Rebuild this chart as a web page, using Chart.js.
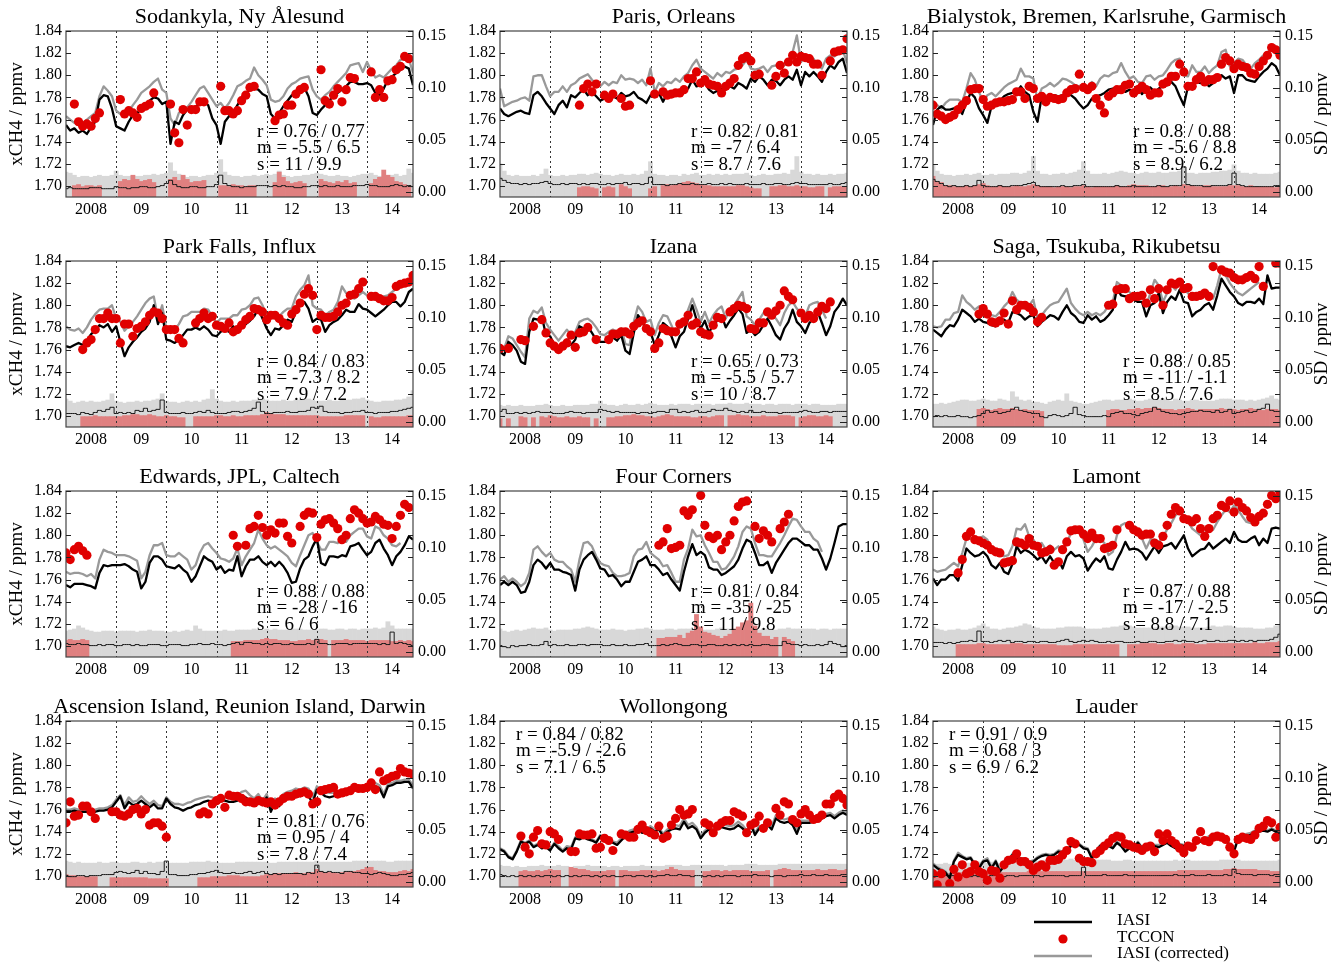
<!DOCTYPE html>
<html>
<head>
<meta charset="utf-8">
<script src="https://cdn.jsdelivr.net/npm/chart.js@4.4.1/dist/chart.umd.min.js"></script>
<style>
  html, body { margin: 0; padding: 0; background: #fff; }
  body { width: 1341px; height: 964px; position: relative; overflow: hidden; }
  canvas { position: absolute; }
</style>
</head>
<body>
<script>
// Monthly XCH4 comparison, Jan 2008 .. Dec 2014 (index 0..83).
// Concentrations in ppbv (axis labels shown in ppmv); SD in ppbv.
const _ = null;
const YEAR_LABELS = ['2008', '09', '10', '11', '12', '13', '14'];
const XCH4_TICKS = [1700, 1720, 1740, 1760, 1780, 1800, 1820, 1840];
const SD_TICKS = [0, 50, 100, 150];
const YEAR_STARTS = [12, 24, 36, 48, 60, 72];

const TITLES = [
  'Sodankyla, Ny \u00c5lesund', 'Paris, Orleans', 'Bialystok, Bremen, Karlsruhe, Garmisch',
  'Park Falls, Influx', 'Izana', 'Saga, Tsukuba, Rikubetsu',
  'Edwards, JPL, Caltech', 'Four Corners', 'Lamont',
  'Ascension Island, Reunion Island, Darwin', 'Wollongong', 'Lauder'
];
const STATS = [
  ['r = 0.76 / 0.77', 'm = -5.5 / 6.5', 's = 11 / 9.9'],
  ['r = 0.82 / 0.81', 'm = -7 / 6.4', 's = 8.7 / 7.6'],
  ['r = 0.8 / 0.88', 'm = -5.6 / 8.8', 's = 8.9 / 6.2'],
  ['r = 0.84 / 0.83', 'm = -7.3 / 8.2', 's = 7.9 / 7.2'],
  ['r = 0.65 / 0.73', 'm = -5.5 / 5.7', 's = 10 / 8.7'],
  ['r = 0.88 / 0.85', 'm = -11 / -1.1', 's = 8.5 / 7.6'],
  ['r = 0.88 / 0.88', 'm = -28 / -16', 's = 6 / 6'],
  ['r = 0.81 / 0.84', 'm = -35 / -25', 's = 11 / 9.8'],
  ['r = 0.87 / 0.88', 'm = -17 / -2.5', 's = 8.8 / 7.1'],
  ['r = 0.81 / 0.76', 'm = 0.95 / 4', 's = 7.8 / 7.4'],
  ['r = 0.84 / 0.82', 'm = -5.9 / -2.6', 's = 7.1 / 6.5'],
  ['r = 0.91 / 0.9', 'm = 0.68 / 3', 's = 6.9 / 6.2']
];
const LEGEND_LABELS = ['IASI', 'TCCON', 'IASI (corrected)'];

// ---- Sodankyla, Ny Alesund
const iasiSod = [
  1755,1750,1752,1748,1750,1747,1753,1758,1778,1782,1781,1770,
  1754,1752,1750,1758,1764,1766,1769,1773,1777,1780,1779,1774,
  1776,1738,1758,1756,1764,1769,1770,1772,1774,1776,1773,1761,
  1755,1738,1758,1763,1766,1773,1779,1784,1787,1788,1787,1783,
  1781,1765,1761,1766,1772,1777,1782,1784,1787,1789,1781,1766,
  1764,1769,1773,1777,1782,1784,1787,1790,1794,1794,1792,1792,
  1793,1791,1784,1782,1788,1796,1799,1802,1805,1808,1806,1791];
const corrSod = [
  1763,1760,1757,1755,1757,1760,1763,1766,1781,1790,1786,1781,
  1768,1765,1764,1767,1773,1778,1784,1787,1790,1794,1797,1787,
  1784,1761,1755,1766,1769,1771,1776,1782,1788,1790,1784,1778,
  1772,1775,1770,1775,1782,1790,1792,1795,1797,1807,1800,1796,
  1791,1778,1776,1777,1781,1788,1792,1794,1797,1798,1799,1787,
  1781,1778,1782,1785,1790,1794,1798,1802,1809,1810,1811,1803,
  1812,1804,1798,1800,1798,1802,1806,1809,1814,1815,1815,1802];
const tcconSod = [
  _,_,1774,1758,1754,1756,1754,1761,1766,_,_,_,
  _,1778,1765,1768,1766,1762,1770,1772,1774,1784,_,_,
  _,1774,1748,1739,1769,1755,1769,1769,1776,1776,_,_,
  _,1790,1768,1768,1765,1768,1777,1782,1789,1790,_,_,
  _,_,1759,1764,1765,1773,1773,1783,1787,1789,_,_,
  _,1805,1777,1774,1782,1788,1776,1787,1798,1797,_,_,
  _,1803,1780,1787,1780,1795,1796,1805,1808,1817,1815,_];
const sdIasiSod = [
  19,18,16,14,15,15,14,15,16,15,15,16,
  20,16,15,15,14,15,15,16,16,17,16,17,
  18,28,20,17,15,14,15,15,14,15,16,16,
  18,31,19,16,15,15,14,15,15,16,15,16,
  17,16,17,20,16,15,14,15,15,16,16,17,
  18,17,16,15,15,16,15,15,14,15,16,17,
  17,18,16,15,15,16,16,17,15,16,22,18];
const sdTcconSod = [
  _,_,6,7,5,6,6,5,6,_,_,_,
  _,10,12,11,16,12,10,11,12,9,_,_,
  _,12,14,11,16,12,9,10,10,11,_,_,
  _,6,6,5,7,6,6,5,6,6,_,_,
  _,_,9,19,14,10,8,9,10,8,_,_,
  _,12,10,9,8,10,9,11,8,9,_,_,
  _,8,12,14,21,16,14,10,9,7,6,_];
const sdDiffSod = [
  3,4,3,3,3,3,4,4,4,3,3,3,
  5,4,4,3,4,4,5,5,4,4,5,6,
  8,11,7,5,4,4,5,5,4,4,5,5,
  7,16,8,6,5,5,4,5,5,5,6,6,
  6,5,6,5,6,5,5,4,4,5,5,6,
  6,5,6,5,5,6,5,5,5,6,6,6,
  7,6,6,5,5,5,6,7,6,5,6,5];

// ---- Paris, Orleans
const iasiPar = [
  1770,1765,1763,1765,1767,1768,1766,1765,1782,1785,1781,1775,
  1770,1765,1773,1777,1771,1782,1780,1784,1787,1782,1785,1781,
  1777,1779,1778,1781,1779,1784,1781,1782,1785,1780,1778,1775,
  1782,1781,1784,1776,1784,1782,1785,1784,1786,1788,1796,1790,
  1791,1793,1787,1784,1786,1788,1787,1790,1788,1793,1791,1788,
  1797,1794,1799,1796,1791,1796,1795,1791,1796,1799,1796,1805,
  1791,1803,1799,1803,1799,1794,1803,1809,1806,1812,1815,1802];
const corrPar = [
  1788,1772,1774,1776,1777,1779,1780,1777,1799,1800,1800,1790,
  1781,1785,1785,1790,1785,1791,1793,1797,1799,1801,1796,1792,
  1790,1794,1791,1794,1793,1800,1796,1797,1796,1793,1796,1791,
  1806,1785,1793,1790,1794,1793,1797,1794,1799,1802,1809,1814,
  1806,1803,1800,1797,1802,1799,1803,1802,1805,1806,1809,1814,
  1806,1805,1806,1808,1803,1808,1809,1806,1809,1814,1821,1836,
  1812,1817,1812,1815,1809,1806,1815,1818,1817,1820,1823,1811];
const tcconPar = [
  _,_,_,_,_,_,_,_,_,_,_,_,
  _,_,_,_,_,_,_,1773,1788,1792,1785,1792,
  _,1782,1779,1783,_,1779,1772,1773,_,_,_,_,
  1795,1783,_,1785,1782,1783,1784,1784,1787,1797,1797,1803,
  1793,1796,1792,1791,1790,1784,1790,1793,1797,1809,1815,1817,
  1813,1800,1801,_,_,1791,1799,1809,1802,1812,1818,1812,
  1817,1816,1815,1810,1810,1800,_,1813,1821,1822,1823,1833];
const sdIasiPar = [
  27,20,16,15,16,15,15,15,16,15,17,22,
  16,15,15,16,15,16,16,17,17,16,17,18,
  17,16,16,15,16,17,16,16,17,16,17,20,
  29,17,16,16,15,16,16,15,17,16,17,18,
  16,16,17,16,17,16,17,16,17,17,17,18,
  16,15,16,17,16,16,17,17,18,17,21,34,
  19,17,17,16,17,16,16,17,16,17,17,18];
const sdTcconPar = [
  _,_,_,_,_,_,_,_,_,_,_,_,
  _,_,_,_,_,_,_,4,5,5,4,3,
  _,4,5,4,_,7,5,3,_,_,_,_,
  3,5,_,6,7,6,7,8,9,10,9,8,
  7,6,6,5,5,5,5,5,5,6,6,5,
  4,3,3,_,_,5,5,6,6,5,5,6,
  5,5,4,4,5,5,_,4,5,5,5,5];
const sdDiffPar = [
  13,11,9,8,8,7,8,7,8,8,9,10,
  8,7,7,8,7,8,8,7,8,7,8,8,
  7,7,8,7,8,8,9,7,8,8,7,8,
  14,7,7,7,6,7,7,8,7,7,8,7,
  7,7,8,7,7,8,7,8,7,7,7,8,
  7,7,7,8,7,7,8,8,7,7,8,9,
  8,8,7,7,7,7,7,8,7,7,8,9];

// ---- Bialystok, Bremen, Karlsruhe, Garmisch
const iasiBia = [
  1755,1769,1772,1769,1769,1770,1771,1765,1776,1784,1780,1770,
  1764,1757,1772,1776,1777,1781,1783,1784,1785,1790,1785,1782,
  1767,1758,1781,1778,1781,1782,1781,1782,1784,1782,1779,1774,
  1770,1773,1779,1781,1782,1784,1787,1788,1789,1788,1785,1787,
  1785,1790,1783,1788,1789,1785,1788,1790,1791,1794,1790,1781,
  1773,1790,1792,1794,1793,1794,1790,1793,1797,1800,1797,1799,
  1784,1800,1800,1796,1795,1794,1799,1803,1806,1811,1808,1800];
const corrBia = [
  1776,1773,1770,1775,1778,1778,1778,1776,1788,1802,1796,1785,
  1776,1782,1784,1781,1785,1789,1792,1794,1796,1806,1799,1799,
  1797,1778,1788,1790,1793,1790,1793,1797,1796,1794,1791,1790,
  1787,1788,1794,1790,1797,1800,1799,1802,1803,1811,1803,1797,
  1799,1794,1793,1799,1800,1796,1799,1800,1805,1811,1814,1815,
  1800,1799,1809,1803,1803,1808,1802,1806,1809,1821,1823,1808,
  1811,1815,1814,1809,1806,1811,1814,1818,1821,1823,1826,1820];
const tcconBia = [
  1773,1765,1763,1760,1762,1764,1769,1773,1777,1787,1788,1788,
  1778,1772,1773,1775,1776,1776,1777,1778,1785,1785,1779,1790,
  1788,1779,1781,1776,1780,1779,1778,1779,1784,1787,1788,1801,
  1789,1787,1790,1779,1773,1766,1781,1784,1787,1787,1791,1792,
  1784,1787,1790,1787,1782,1784,1784,1792,1794,1799,1799,1810,
  1803,1790,1790,1796,1799,1794,1796,1796,1798,1810,1816,1813,
  1806,1810,1808,1807,1802,1801,1808,1813,1818,1825,1823,1818];
const sdIasiBia = [
  26,20,17,16,16,15,16,16,17,16,17,18,
  16,16,17,16,17,17,17,18,18,17,18,20,
  34,20,17,17,16,17,17,18,17,18,19,21,
  29,20,17,17,17,18,17,18,19,20,19,18,
  18,17,18,19,18,18,19,18,18,19,19,20,
  24,18,18,17,18,18,18,19,19,20,20,21,
  26,20,18,18,17,18,17,17,17,17,18,19];
const sdTcconBia = [
  15,10,9,6,6,5,5,5,6,5,6,7,
  8,6,5,5,6,5,5,5,6,5,5,6,
  7,6,5,5,5,4,5,5,5,4,5,5,
  6,5,4,5,5,5,5,5,6,5,5,6,
  7,6,6,6,5,5,6,6,5,5,6,5,
  7,6,6,5,5,6,6,5,5,5,5,6,
  6,6,5,5,6,5,5,5,5,5,4,5];
const sdDiffBia = [
  12,10,8,6,5,6,5,5,6,5,6,11,
  6,5,5,5,6,5,5,6,6,6,7,8,
  9,6,5,5,5,5,5,6,5,5,6,6,
  7,5,5,5,5,5,5,5,6,5,5,5,
  6,5,5,5,5,5,6,5,5,6,6,6,
  24,7,6,6,6,5,5,6,6,6,6,7,
  18,7,6,5,5,5,5,5,5,5,6,6];

// ---- Park Falls, Influx
const iasiPkf = [
  1763,1762,1764,1766,1764,1768,1774,1777,1782,1780,1783,1776,
  1781,1767,1754,1762,1767,1771,1776,1779,1785,1800,1783,1793,
  1769,1768,1766,1769,1773,1778,1778,1780,1778,1781,1778,1773,
  1772,1776,1778,1776,1781,1778,1784,1783,1786,1790,1797,1788,
  1779,1773,1779,1778,1782,1787,1785,1794,1802,1803,1797,1785,
  1788,1787,1776,1782,1785,1787,1791,1796,1794,1794,1801,1797,
  1796,1793,1790,1793,1796,1800,1803,1803,1799,1803,1812,1815];
const corrPkf = [
  1781,1778,1777,1779,1775,1780,1787,1792,1796,1797,1797,1800,
  1788,1785,1777,1781,1785,1790,1796,1802,1806,1808,1788,1800,
  1779,1778,1778,1783,1790,1791,1794,1794,1794,1797,1796,1790,
  1784,1788,1788,1788,1791,1791,1796,1797,1800,1806,1807,1800,
  1790,1788,1791,1790,1794,1797,1797,1808,1814,1818,1827,1800,
  1797,1796,1791,1794,1796,1803,1817,1811,1808,1806,1809,1812,
  1809,1808,1806,1806,1808,1809,1812,1815,1817,1818,1823,1825];
const tcconPkf = [
  _,_,_,_,1760,1766,1769,1778,1788,1788,1793,1788,
  1788,1766,1783,1783,1772,1779,1781,1785,1791,1794,1793,1788,
  1778,1778,1778,1770,1766,_,_,1784,1788,1793,1788,1790,
  1782,1781,1779,1784,1776,1778,1782,1787,1790,1797,1796,1794,
  1787,1791,1791,1788,1784,1782,1792,1796,1802,1810,1815,1809,
  1778,1791,1789,1789,1790,1794,1800,1802,1809,1810,1815,1821,
  _,1808,1808,1806,1804,1804,1807,1817,1819,1820,1821,1827];
const sdIasiPkf = [
  22,20,18,19,20,19,20,19,19,20,21,27,
  20,19,18,19,19,20,19,20,20,21,22,27,
  20,19,19,18,19,20,19,20,19,21,22,31,
  22,20,19,19,20,19,20,20,20,21,21,22,
  21,20,20,20,21,20,20,21,21,22,22,21,
  20,20,20,21,20,20,21,21,21,22,22,23,
  21,20,19,19,20,20,20,21,21,22,24,30];
const sdTcconPkf = [
  _,_,_,_,5,5,5,6,5,5,5,5,
  5,5,6,6,7,7,6,6,7,6,5,5,
  6,5,5,4,4,_,_,5,5,5,5,5,
  6,6,5,5,6,5,5,6,6,6,6,7,
  9,8,7,7,7,6,6,6,6,6,6,6,
  6,5,5,5,5,5,5,6,6,6,6,6,
  _,5,4,4,5,5,5,5,5,5,6,6];
const sdDiffPkf = [
  8,8,8,7,9,8,7,9,11,10,12,14,
  8,9,8,9,8,11,10,13,10,11,12,21,
  9,8,8,8,9,8,8,9,10,9,11,9,
  8,8,8,9,10,10,9,10,11,13,19,10,
  8,8,9,9,9,10,9,9,10,10,11,14,
  13,15,10,9,9,9,8,9,9,10,10,11,
  9,9,8,9,9,9,10,10,11,12,13,14];

// ---- Izana
const iasiIza = [
  1758,1755,1767,1764,1759,1749,1747,1776,1788,1787,1790,1773,
  1772,1764,1761,1761,1769,1764,1769,1781,1779,1781,1775,1769,
  1767,1767,1767,1771,1768,1773,1759,1756,1775,1791,1786,1777,
  1776,1764,1773,1784,1781,1772,1762,1772,1776,1788,1800,1787,
  1779,1786,1775,1783,1786,1791,1780,1786,1791,1797,1792,1775,
  1778,1773,1776,1782,1788,1781,1773,1769,1779,1785,1796,1785,
  1781,1775,1784,1788,1794,1784,1773,1781,1794,1799,1806,1800];
const corrIza = [
  1764,1761,1772,1770,1764,1758,1753,1788,1795,1793,1798,1784,
  1778,1773,1768,1773,1778,1773,1776,1785,1787,1788,1785,1780,
  1774,1773,1776,1778,1776,1779,1765,1764,1785,1799,1794,1785,
  1787,1773,1784,1791,1790,1782,1773,1780,1786,1796,1806,1796,
  1785,1794,1784,1791,1796,1799,1788,1797,1800,1806,1812,1790,
  1787,1782,1787,1793,1796,1790,1788,1782,1793,1800,1803,1797,
  1793,1790,1800,1802,1803,1796,1788,_,_,_,_,_];
const tcconIza = [
  1761,_,1761,_,_,1769,1768,_,1781,_,1787,1775,
  1766,1763,1760,1763,1766,1773,1762,1775,1776,1780,_,1769,
  _,_,1769,1774,1774,1776,1776,1774,1781,1784,1786,1779,
  1776,1761,1766,1779,1777,1776,1776,1783,1785,1791,1782,1784,
  1776,1774,1773,1782,1789,1788,_,1794,1797,1800,1799,1797,
  1779,1778,1784,1784,1794,1791,1795,1800,1813,1808,1805,_,
  1793,1788,1791,1788,1794,1799,1797,1803,_,_,_,_];
const sdIasiIza = [
  16,15,16,15,15,16,15,15,15,16,16,17,
  16,15,15,16,15,15,16,16,16,16,17,17,
  20,17,16,16,15,16,17,16,16,17,16,17,
  18,17,16,16,16,17,16,17,17,17,16,17,
  17,17,17,16,17,17,17,18,17,17,17,18,
  17,17,17,16,17,17,16,17,17,17,16,17,
  17,17,16,17,17,16,16,16,16,17,17,17];
const sdTcconIza = [
  3,_,3,_,_,5,4,_,4,_,5,4,
  6,5,4,4,5,4,4,5,4,4,_,3,
  _,_,4,4,5,5,6,6,7,6,6,5,
  5,4,5,6,7,6,5,5,5,5,4,4,
  5,5,4,5,6,6,_,6,6,7,6,6,
  5,5,5,6,5,5,5,6,6,6,5,_,
  4,5,6,6,5,5,6,5,_,_,_,_];
const sdDiffIza = [
  10,12,8,8,9,8,9,8,9,10,9,9,
  9,8,8,8,9,10,9,9,8,9,9,9,
  12,11,10,9,10,9,9,9,9,8,9,9,
  8,9,10,10,9,12,12,9,10,9,10,11,
  9,9,10,12,11,11,13,11,10,9,10,9,
  11,9,9,10,9,9,9,8,9,9,9,9,
  10,11,10,9,9,10,10,9,10,10,10,10];

// ---- Saga, Tsukuba, Rikubetsu
const iasiSag = [
  1778,1775,1772,1778,1782,1781,1787,1796,1793,1790,1785,1788,
  1785,1784,1782,1781,1785,1787,1784,1794,1793,1791,1787,1790,
  1791,1781,1785,1788,1791,1790,1787,1794,1800,1793,1790,1785,
  1784,1791,1787,1790,1785,1787,1791,1796,1815,1809,1808,1809,
  1805,1803,1803,1790,1800,1802,1811,1793,1803,1808,1805,1814,
  1803,1802,1790,1794,1796,1800,1802,1796,1809,1824,1818,1812,
  1808,1802,1800,1803,1803,1802,1806,1801,1827,1815,1816,1816];
const corrSag = [
  1781,1780,1781,1787,1787,1793,1794,1809,1803,1800,1796,1799,
  1797,1791,1791,1790,1794,1799,1803,1812,1805,1802,1800,1800,
  1805,1788,1791,1796,1800,1802,1803,1809,1815,1802,1797,1793,
  1791,1794,1791,1793,1791,1794,1800,1803,1821,1818,1814,1812,
  1806,1808,1809,1800,1811,1823,1818,1803,1811,1818,1814,1823,
  1814,1811,1805,1806,1806,1809,1809,1806,1818,1833,1827,1820,
  1815,1811,1809,1812,1815,1818,1821,_,_,_,_,_];
const tcconSag = [
  _,_,_,_,_,_,_,_,_,_,_,1792,
  1797,1792,1785,1784,1786,1793,1783,1804,1796,1800,1800,1798,
  1794,1785,1789,_,_,_,_,_,_,_,_,_,
  _,_,_,_,_,_,1800,1801,1814,1815,1815,1806,
  1808,1808,1809,1802,1814,1806,1815,1800,1814,1820,1819,1821,
  1815,1816,1808,1808,1809,1811,1808,1835,_,1832,1830,1829,
  1825,1823,1823,1825,1827,1824,1835,1817,_,_,1838,1838];
const sdIasiSag = [
  17,17,18,17,18,19,20,21,21,20,20,21,
  22,21,20,20,22,21,20,29,24,21,20,21,
  19,19,18,17,19,20,21,20,27,20,19,18,
  17,17,18,19,20,21,21,20,21,21,21,22,
  21,20,20,21,22,21,21,22,21,20,22,21,
  20,20,21,21,20,20,20,20,21,22,22,22,
  21,21,21,20,21,20,21,22,23,25,22,21];
const sdTcconSag = [
  _,_,_,_,_,_,_,_,_,_,_,12,
  13,12,11,12,13,12,12,13,12,11,12,11,
  11,11,10,_,_,_,_,_,_,_,_,_,
  _,_,_,_,_,_,11,12,12,11,11,12,
  12,13,12,13,13,14,13,12,12,12,11,12,
  12,13,12,11,12,12,12,12,12,13,12,12,
  12,11,12,12,13,12,12,11,12,12,12,11];
const sdDiffSag = [
  5,6,5,6,5,5,6,5,5,4,5,6,
  8,11,9,10,8,9,10,12,14,11,10,9,
  8,8,5,4,6,7,6,5,6,8,14,7,
  6,5,5,5,5,6,5,8,9,10,8,8,
  7,6,8,9,10,14,12,10,9,8,8,7,
  8,9,10,10,11,10,10,9,11,9,10,12,
  8,9,10,11,9,10,12,13,17,11,10,10];

// ---- Edwards, JPL, Caltech
const iasiEdw = [
  1755,1753,1756,1756,1756,1755,1754,1752,1766,1773,1772,1773,
  1773,1773,1774,1772,1769,1767,1752,1758,1775,1781,1781,1778,
  1772,1771,1770,1773,1769,1766,1758,1763,1772,1781,1778,1776,
  1769,1772,1766,1769,1768,1781,1763,1772,1778,1778,1781,1776,
  1773,1776,1772,1776,1772,1766,1757,1758,1770,1778,1781,1790,
  1797,1775,1773,1781,1781,1780,1782,1781,1790,1791,1793,1787,
  1782,1785,1793,1796,1788,1782,1773,1781,1785,1791,1799,1796];
const corrEdw = [
  1767,1765,1766,1766,1765,1763,1765,1761,1778,1787,1785,1784,
  1782,1782,1782,1781,1779,1777,1761,1767,1782,1791,1791,1793,
  1782,1781,1781,1784,1781,1778,1769,1773,1784,1791,1793,1788,
  1784,1779,1778,1776,1779,1788,1773,1781,1787,1793,1805,1797,
  1791,1788,1790,1787,1784,1781,1775,1772,1782,1791,1800,1802,
  1794,1787,1787,1794,1794,1793,1796,1794,1800,1803,1806,1806,
  1799,1797,1808,1806,1800,1797,1791,1790,1793,_,_,_];
const tcconEdw = [
  1784,1778,1787,1790,1786,1782,_,_,_,_,_,_,
  _,_,_,_,_,_,_,_,_,_,_,_,
  _,_,_,_,_,_,_,_,_,_,_,_,
  _,_,_,_,1800,1790,_,1791,1806,1808,1818,1807,
  1800,1805,1802,1811,1811,1799,1793,_,1808,1818,1821,1820,
  1798,1810,1814,1815,1811,1806,1796,1800,1815,1823,1820,1815,
  1811,1812,1817,1814,1810,1809,1797,1808,1818,1828,1825,_];
const sdIasiEdw = [
  20,21,22,25,23,21,20,19,19,20,20,20,
  19,20,20,20,20,19,20,20,21,20,20,20,
  19,19,20,19,20,21,20,25,22,20,20,20,
  20,20,21,20,20,21,21,21,21,22,21,21,
  22,21,22,21,21,21,22,22,22,21,21,21,
  21,22,22,21,21,22,22,21,22,22,21,22,
  22,22,23,22,23,29,25,22,22,22,22,22];
const sdTcconEdw = [
  11,12,11,11,12,11,_,_,_,_,_,_,
  _,_,_,_,_,_,_,_,_,_,_,_,
  _,_,_,_,_,_,_,_,_,_,_,_,
  _,_,_,_,10,10,10,11,11,11,11,12,
  13,12,12,11,11,11,10,10,11,11,12,11,
  12,12,11,_,11,11,11,12,11,11,11,11,
  10,11,11,11,11,11,10,10,11,10,11,10];
const sdDiffEdw = [
  8,7,7,8,7,7,6,6,7,6,7,7,
  6,6,7,7,6,7,6,6,7,7,7,6,
  6,7,7,7,6,6,7,7,8,7,7,8,
  7,7,6,7,8,9,7,9,9,8,8,7,
  8,7,8,8,7,7,8,7,7,7,8,7,
  12,8,8,7,7,8,8,8,7,8,8,8,
  8,8,8,7,8,7,19,8,9,8,7,6];

// ---- Four Corners
const iasiFcr = [
  1755,1758,1755,1758,1755,1748,1749,1758,1773,1778,1775,1770,
  1775,1769,1769,1767,1766,1764,1750,1769,1778,1782,1785,1778,
  1770,1769,1763,1764,1760,1754,1758,1758,1767,1776,1778,1781,
  1773,1773,1769,1764,1766,1760,1755,1750,1767,1781,1792,1782,
  1785,1782,1771,1769,1769,1764,1766,1769,1772,1778,1788,1796,
  1794,1784,1773,1773,1776,1766,1775,1781,1787,1793,1797,1797,
  1794,1791,1791,1787,1787,1779,1769,1779,1793,1808,1810,1810];
const corrFcr = [
  1760,1763,1758,1761,1758,1754,1757,1766,1787,1790,1785,1781,
  1784,1778,1776,1776,1772,1769,1758,1778,1793,1794,1790,1781,
  1775,1773,1772,1766,1763,1763,1764,1766,1781,1787,1788,1794,
  1784,1781,1778,1772,1773,1766,1758,1758,1778,1788,1805,1799,
  1800,1791,1784,1776,1776,1769,1770,1775,1781,1790,1803,1808,
  1806,1793,1782,1782,1781,1781,1787,1793,1800,1808,1815,1814,
  1808,1803,1803,1797,1794,1785,_,_,_,_,_,_];
const tcconFcr = [
  _,_,_,_,_,_,_,_,_,_,_,_,
  _,_,_,_,_,_,_,_,_,_,_,_,
  _,_,_,_,_,_,_,_,_,_,_,_,
  _,_,1791,1794,1806,1788,1789,1791,1822,1818,1823,_,
  1836,1809,1799,1797,1800,1787,1794,1800,1813,1826,1830,1831,
  _,1808,1797,1804,1800,1794,_,1806,1812,1819,_,_,
  _,_,_,_,_,_,_,_,_,_,_,_];
const sdIasiFcr = [
  22,20,19,20,21,20,21,22,23,22,22,23,
  21,20,21,21,21,21,22,22,23,24,23,22,
  21,21,21,22,21,21,20,21,21,22,22,23,
  22,21,21,21,22,22,21,22,22,22,22,22,
  22,21,21,21,22,23,22,22,22,23,22,22,
  22,21,21,22,22,22,21,22,22,23,22,22,
  22,22,22,22,21,22,22,21,22,22,22,22];
const sdTcconFcr = [
  _,_,_,_,_,_,_,_,_,_,_,_,
  _,_,_,_,_,_,_,_,_,_,_,_,
  _,_,_,_,_,_,_,_,_,_,_,_,
  _,_,13,13,14,14,14,16,13,18,20,36,
  24,19,18,16,15,13,15,17,22,24,28,30,
  47,25,18,15,15,12,14,_,14,12,10,_,
  _,_,_,_,_,_,_,_,_,_,_,_];
const sdDiffFcr = [
  6,5,4,6,5,6,6,7,6,6,7,10,
  6,7,6,6,7,6,6,7,7,6,7,7,
  7,6,6,7,6,6,7,6,6,7,7,8,
  6,6,6,7,6,7,8,7,6,6,7,7,
  6,6,7,7,6,6,7,6,7,6,7,6,
  7,6,6,7,7,6,6,6,10,8,7,7,
  6,7,6,6,7,6,7,10,8,7,5,6];

// ---- Lamont
const iasiLam = [
  1761,1755,1760,1760,1764,1764,1759,1773,1788,1784,1781,1782,
  1785,1781,1773,1770,1775,1767,1765,1774,1790,1784,1787,1785,
  1782,1778,1781,1775,1781,1775,1778,1770,1781,1785,1781,1782,
  1779,1768,1774,1779,1776,1781,1770,1769,1778,1785,1794,1787,
  1788,1787,1784,1778,1784,1790,1784,1790,1791,1793,1788,1794,
  1800,1788,1781,1784,1787,1788,1793,1788,1791,1794,1797,1793,
  1803,1796,1794,1794,1797,1799,1791,1797,1793,1806,1807,1806];
const corrLam = [
  1769,1767,1768,1769,1772,1775,1772,1784,1797,1797,1796,1797,
  1799,1796,1787,1784,1787,1781,1782,1790,1806,1805,1810,1799,
  1796,1790,1793,1787,1791,1787,1790,1785,1793,1802,1802,1803,
  1796,1785,1790,1797,1796,1793,1782,1785,1800,1809,1811,1808,
  1805,1800,1797,1788,1796,1796,1794,1799,1805,1811,1818,1821,
  1818,1812,1806,1803,1800,1802,1806,1805,1812,1818,1823,1821,
  1827,1823,1817,1812,1811,1812,_,_,_,_,_,_];
const tcconLam = [
  _,_,_,_,_,_,1766,1778,1799,1803,1796,1795,
  1793,1791,1787,1785,1784,1775,1776,1777,1794,1793,1791,1797,
  1791,1790,1784,1785,1787,1773,1776,1787,1794,1804,1805,1805,
  1801,1797,1802,1797,1797,1788,1789,1791,1805,_,_,1809,
  1805,1803,1800,1801,1801,1793,1791,1799,1809,1819,1825,1822,
  1815,1814,1812,1815,1806,1799,1806,1815,1818,1827,1825,1831,
  1821,1830,1825,1822,1816,1812,1817,1820,1828,1836,1833,1839];
const sdIasiLam = [
  24,22,21,20,21,21,22,21,21,22,23,25,
  27,24,22,22,21,22,23,23,24,25,27,26,
  24,23,22,22,22,22,23,23,24,24,24,24,
  23,22,22,22,22,23,23,24,24,25,26,25,
  24,23,23,23,23,23,23,24,24,25,25,24,
  24,24,23,23,23,23,24,25,24,24,25,25,
  24,23,23,23,23,22,22,22,23,23,25,26];
const sdTcconLam = [
  _,_,_,_,_,_,7,7,7,7,7,8,
  8,7,7,7,7,7,7,8,8,8,7,7,
  7,7,7,7,7,7,6,6,6,6,7,7,
  7,7,7,7,7,7,7,7,7,_,_,7,
  7,7,8,8,8,8,7,7,8,8,7,7,
  8,8,8,7,7,7,8,8,8,8,8,8,
  8,8,8,8,8,9,8,8,9,9,9,10];
const sdDiffLam = [
  9,9,9,8,9,8,9,10,10,11,10,20,
  10,10,9,10,11,10,11,9,10,10,9,10,
  10,9,10,10,9,9,10,11,12,10,9,10,
  11,10,11,10,9,9,10,9,10,10,9,9,
  9,10,9,9,10,10,9,9,10,10,11,10,
  11,10,10,9,10,11,10,10,11,10,10,11,
  11,10,11,10,11,10,11,11,11,12,14,17];

// ---- Ascension Island, Reunion Island, Darwin
const iasiAsc = [
  1758,1758,1759,1758,1758,1758,1755,1758,1759,1759,1760,1762,
  1767,1772,1761,1767,1764,1765,1768,1765,1762,1765,1761,1761,
  1770,1765,1762,1761,1759,1761,1762,1764,1765,1767,1768,1767,
  1765,1768,1768,1767,1767,1768,1771,1771,1768,1765,1770,1764,
  1771,1758,1767,1763,1770,1772,1772,1773,1772,1774,1772,1766,
  1778,1775,1772,1771,1772,1773,1773,1775,1776,1778,1778,1778,
  1778,1781,1781,1779,1771,1781,1782,1784,1784,1785,1785,1779];
const corrAsc = [
  1760,1760,1761,1760,1761,1760,1757,1760,1761,1761,1762,1764,
  1769,1773,1764,1771,1767,1768,1772,1768,1765,1768,1764,1763,
  1771,1767,1765,1765,1764,1766,1767,1769,1770,1771,1772,1771,
  1769,1771,1771,1770,1770,1772,1776,1777,1773,1770,1774,1768,
  1774,1762,1770,1767,1774,1776,1777,1779,1778,1780,1779,1771,
  1781,1778,1776,1775,1775,1776,1776,1778,1779,1781,1781,1781,
  1781,1783,1784,1782,1774,1783,1784,1786,1786,1787,1787,1782];
const tcconAsc = [
  1748,1767,1754,1755,1763,1763,1758,1752,_,_,_,1758,
  1758,1755,1754,1756,1760,1761,1756,1760,1746,1748,1748,1745,
  1735,_,_,_,_,_,_,_,1756,1758,1756,1765,
  1768,1770,1762,1773,1772,1772,1770,1767,1767,1766,1768,1767,
  1766,1767,1764,1767,1770,1772,1772,1774,1775,1776,1774,1765,
  1767,1777,1778,1779,1780,1774,1775,1776,1777,1780,1779,1779,
  1780,1784,1778,1794,1786,1788,1790,1791,1797,1794,1793,1792];
const sdIasiAsc = [
  20,19,18,19,18,18,18,18,19,18,18,19,
  19,18,18,18,19,19,18,18,19,18,19,19,
  19,18,18,18,18,18,19,19,19,19,20,19,
  19,18,18,18,18,19,19,19,19,19,19,19,
  19,18,18,19,19,19,19,19,19,19,19,19,
  20,19,19,19,19,19,19,19,19,20,20,20,
  20,20,20,20,20,19,19,20,20,20,20,20];
const sdTcconAsc = [
  7,6,6,5,5,5,5,5,_,_,_,4,
  4,4,4,4,4,4,4,4,3,3,3,3,
  3,_,_,_,_,_,_,_,4,4,4,5,
  5,5,5,6,6,6,5,5,5,5,5,6,
  7,7,8,8,8,8,8,9,8,8,9,9,
  12,10,9,9,9,8,9,9,10,10,11,12,
  14,14,11,10,10,9,9,9,10,11,10,12];
const sdDiffAsc = [
  6,5,5,6,6,5,6,6,6,7,7,7,
  9,10,9,8,9,11,8,10,8,8,7,10,
  20,7,7,6,6,6,7,7,8,8,9,10,
  11,9,8,8,9,8,8,9,10,8,9,10,
  8,7,8,7,8,8,8,8,8,7,9,8,
  16,10,9,10,9,9,8,10,10,9,9,8,
  8,7,8,9,8,7,6,6,7,7,8,9];

// ---- Wollongong
const iasiWol = [
  1724,1722,1717,1715,1722,1731,1729,1731,1726,1728,1725,1726,
  1723,1729,1725,1722,1725,1724,1734,1733,1735,1733,1732,1730,
  1736,1734,1732,1730,1728,1732,1736,1739,1740,1742,1739,1740,
  1743,1740,1742,1736,1740,1742,1743,1742,1749,1743,1745,1742,
  1734,1739,1742,1739,1743,1744,1743,1742,1743,1746,1743,1739,
  1746,1737,1743,1743,1746,1742,1752,1749,1748,1749,1746,1738,
  1748,1748,1748,1749,1750,1752,1754,1755,1752,1755,1757,1755];
const corrWol = [
  1725,1723,1718,1716,1723,1732,1730,1732,1727,1729,1727,1727,
  1724,1730,1727,1723,1727,1726,1735,1734,1737,1734,1733,1731,
  1737,1735,1733,1731,1730,1734,1738,1741,1742,1744,1741,1741,
  1745,1742,1744,1738,1742,1744,1746,1745,1752,1746,1748,1744,
  1736,1741,1744,1742,1746,1747,1746,1745,1746,1749,1746,1741,
  1748,1739,1745,1745,1749,1745,1755,1752,1751,1752,1748,1741,
  1750,1750,1750,1751,1752,1754,1756,1757,1754,1757,1759,1757];
const tcconWol = [
  _,_,_,_,_,1736,1726,1720,1735,1741,1729,1728,
  1740,1738,1733,_,_,1722,1722,1738,1737,1737,1738,1725,
  1726,1734,1732,1723,_,1738,1737,1735,1735,1742,1746,1741,
  1739,1737,1745,1734,1736,1746,1752,1760,1755,1756,1760,_,
  _,1748,1746,1739,1745,1748,1750,1750,1758,1756,1754,1739,
  1746,1748,1754,1743,1748,_,1761,1755,1767,1765,1751,1748,
  1756,1760,1755,1751,1752,1755,1765,1765,1771,1774,1770,1764];
const sdIasiWol = [
  16,15,15,14,15,14,14,15,15,15,16,15,
  15,15,16,15,15,14,15,15,15,16,15,15,
  15,15,14,15,15,14,15,15,15,15,16,15,
  15,15,15,15,16,16,16,16,15,15,16,16,
  16,16,16,16,16,16,15,16,16,16,16,17,
  17,17,16,16,16,16,16,17,17,17,17,17,
  17,17,17,17,17,17,17,17,17,17,17,17];
const sdTcconWol = [
  _,_,_,_,_,10,11,10,10,11,10,11,
  12,11,11,_,_,14,13,12,12,11,10,10,
  10,10,11,11,_,11,11,10,10,10,11,11,
  11,11,10,11,12,14,12,11,11,11,11,_,
  _,10,10,11,11,10,11,10,11,11,11,11,
  10,10,10,10,11,_,11,12,13,12,11,11,
  11,11,11,11,12,11,11,12,12,11,11,12];
const sdDiffWol = [
  7,6,5,6,5,6,5,6,5,6,5,6,
  6,5,6,5,6,5,6,5,6,6,5,6,
  5,6,5,6,5,5,6,6,5,6,6,5,
  6,5,6,6,7,6,6,7,6,6,5,6,
  6,5,6,5,6,5,6,6,6,5,6,6,
  6,7,6,6,6,5,6,6,5,6,6,6,
  7,6,6,7,6,6,7,6,6,6,7,7];

// ---- Lauder
const iasiLau = [
  1710,1707,1705,1703,1698,1713,1719,1717,1715,1716,1710,1707,
  1713,1714,1707,1713,1704,1709,1713,1719,1716,1715,1715,1712,
  1713,1716,1718,1719,1718,1719,1722,1721,1722,1727,1730,1728,
  1725,1724,1716,1722,1727,1725,1727,1725,1730,1727,1722,1725,
  1724,1730,1725,1727,1728,1727,1726,1728,1730,1727,1725,1728,
  1727,1727,1726,1730,1731,1731,1734,1735,1733,1736,1732,1728,
  1722,1734,1735,1736,1737,1740,1740,1741,1740,1742,1740,1738];
const corrLau = [
  1711,1708,1706,1704,1699,1714,1721,1718,1716,1717,1711,1708,
  1714,1716,1708,1714,1705,1710,1714,1720,1717,1716,1716,1713,
  1714,1717,1719,1720,1719,1720,1723,1722,1724,1728,1731,1729,
  1726,1725,1717,1723,1728,1727,1728,1726,1731,1728,1723,1726,
  1725,1731,1726,1728,1729,1728,1728,1729,1731,1728,1726,1729,
  1728,1728,1727,1731,1732,1732,1736,1737,1734,1737,1733,1729,
  1723,1736,1737,1738,1739,1741,1742,1742,1741,1743,1741,1739];
const tcconLau = [
  1702,1692,1702,_,1693,1706,1699,1710,1702,1704,1710,1704,
  1702,1696,1705,1704,1698,1710,1714,1715,1720,1713,1713,1710,
  1705,1708,1710,1708,1714,1714,1715,1719,1723,1731,1729,1716,
  1713,1713,1712,1720,1723,1727,1730,1734,1736,1735,1729,1728,
  1726,1725,1723,1726,1727,1722,1738,1732,1738,1732,1729,1725,
  1721,1727,1726,1732,1740,1732,1731,1735,1736,1735,1733,1726,
  1720,1733,1735,1734,1733,1737,1743,1745,1750,1748,1735,1744];
const sdIasiLau = [
  18,17,17,18,17,17,17,18,18,18,18,19,
  18,18,19,18,18,19,19,19,19,20,20,20,
  20,20,20,21,21,22,23,22,21,22,21,21,
  21,21,23,21,21,21,21,20,20,20,21,21,
  20,20,20,20,20,20,20,20,20,20,21,20,
  21,21,20,20,20,20,20,20,20,21,21,21,
  21,21,20,20,20,20,20,20,20,20,20,21];
const sdTcconLau = [
  9,8,9,8,8,9,9,9,9,9,9,9,
  9,9,9,9,9,9,9,9,9,9,9,10,
  10,10,10,10,10,10,10,10,10,10,10,10,
  10,10,10,10,10,10,10,10,10,10,10,10,
  10,10,10,10,10,10,10,10,10,10,10,11,
  11,11,11,11,11,11,11,11,11,11,12,12,
  13,12,12,12,12,12,11,11,11,10,10,10];
const sdDiffLau = [
  8,7,6,6,6,6,5,6,6,5,6,5,
  6,5,6,6,6,5,6,6,5,6,6,6,
  6,6,5,6,6,6,6,6,5,6,6,6,
  14,6,6,6,6,7,6,6,6,6,7,6,
  6,6,6,6,6,6,6,6,6,6,7,6,
  6,6,7,6,6,6,7,6,6,6,7,6,
  12,8,7,7,7,6,7,7,7,6,7,7];

const PANEL_SERIES = [
  [iasiSod, corrSod, tcconSod, sdIasiSod, sdTcconSod, sdDiffSod],
  [iasiPar, corrPar, tcconPar, sdIasiPar, sdTcconPar, sdDiffPar],
  [iasiBia, corrBia, tcconBia, sdIasiBia, sdTcconBia, sdDiffBia],
  [iasiPkf, corrPkf, tcconPkf, sdIasiPkf, sdTcconPkf, sdDiffPkf],
  [iasiIza, corrIza, tcconIza, sdIasiIza, sdTcconIza, sdDiffIza],
  [iasiSag, corrSag, tcconSag, sdIasiSag, sdTcconSag, sdDiffSag],
  [iasiEdw, corrEdw, tcconEdw, sdIasiEdw, sdTcconEdw, sdDiffEdw],
  [iasiFcr, corrFcr, tcconFcr, sdIasiFcr, sdTcconFcr, sdDiffFcr],
  [iasiLam, corrLam, tcconLam, sdIasiLam, sdTcconLam, sdDiffLam],
  [iasiAsc, corrAsc, tcconAsc, sdIasiAsc, sdTcconAsc, sdDiffAsc],
  [iasiWol, corrWol, tcconWol, sdIasiWol, sdTcconWol, sdDiffWol],
  [iasiLau, corrLau, tcconLau, sdIasiLau, sdTcconLau, sdDiffLau]
];

// ---------------- drawing ----------------
const FONT = "'Liberation Serif', 'Times New Roman', serif";
const COLORS = { iasi: '#000000', corr: '#999999', tccon: '#e00000',
                 sdIasi: '#d8d8d8', sdTccon: '#e08080', sdDiff: '#1a1a1a', frame: '#444444' };
const CANVAS_W = 473, CANVAS_H = 225;
const COL_LEFT = [0, 434, 867];
const ROW_TOP = 230;
// statistic text anchor inside each panel: [dx from plot left, dy of first line from plot top]
const STAT_ANCHOR = [[191,101],[191,101],[200,101],[191,101],[191,101],[190,101],
                     [191,101],[191,101],[190,101],[191,101],[16,14],[16,14]];

const toPoints = arr => arr.map((v, i) => ({ x: i, y: v }));

const decor = {
  id: 'decor',
  afterDatasetDraw(chart, args, opts) {
    if (args.index !== 2) return;
    const { ctx, chartArea: a } = chart;
    const xs = chart.scales.x;
    ctx.save();
    ctx.strokeStyle = '#333';
    ctx.lineWidth = 1;
    ctx.setLineDash([2, 3]);
    YEAR_STARTS.forEach(m => {
      const px = Math.round(xs.getPixelForValue(m)) + 0.5;
      ctx.beginPath(); ctx.moveTo(px, a.top); ctx.lineTo(px, a.bottom); ctx.stroke();
    });
    ctx.restore();
  },
  afterDraw(chart, args, opts) {
    const { ctx, chartArea: a } = chart;
    const ys = chart.scales.y, ys2 = chart.scales.y2;
    ctx.save();
    // frame
    ctx.strokeStyle = COLORS.frame;
    ctx.lineWidth = 1.2;
    ctx.strokeRect(a.left, a.top, a.right - a.left, a.bottom - a.top);
    // inward tick marks
    ctx.lineWidth = 1;
    ctx.strokeStyle = '#222';
    ys.ticks.forEach(t => {
      const py = Math.round(ys.getPixelForValue(t.value)) + 0.5;
      ctx.beginPath();
      ctx.moveTo(a.left, py); ctx.lineTo(a.left + 5, py);
      ctx.moveTo(a.right, py); ctx.lineTo(a.right - 5, py);
      ctx.stroke();
    });
    ys2.ticks.forEach(t => {
      const py = Math.round(ys2.getPixelForValue(t.value)) + 0.5;
      ctx.beginPath(); ctx.moveTo(a.right, py); ctx.lineTo(a.right - 7, py); ctx.stroke();
    });
    ctx.fillStyle = '#000';
    // title
    ctx.font = `22px ${FONT}`;
    ctx.textAlign = 'center';
    ctx.textBaseline = 'middle';
    ctx.fillText(opts.title, (a.left + a.right) / 2, a.top - 14);
    // statistics
    ctx.font = `19px ${FONT}`;
    ctx.textAlign = 'left';
    opts.stats.forEach((s, i) => {
      ctx.fillText(s, a.left + opts.anchor[0], a.top + opts.anchor[1] + i * 16.5);
    });
    // axis titles
    ctx.font = `19px ${FONT}`;
    ctx.textAlign = 'center';
    const midY = (a.top + a.bottom) / 2;
    if (opts.leftTitle) {
      ctx.save(); ctx.translate(17, midY); ctx.rotate(-Math.PI / 2);
      ctx.fillText(opts.leftTitle, 0, 0); ctx.restore();
    }
    if (opts.rightTitle) {
      ctx.save(); ctx.translate(a.right + 42, midY); ctx.rotate(-Math.PI / 2);
      ctx.fillText(opts.rightTitle, 0, 0); ctx.restore();
    }
    // legend
    if (opts.legend) {
      const lx = a.left + 101, tx = a.left + 184, ly = a.bottom + 35;
      ctx.lineWidth = 2.3;
      ctx.strokeStyle = COLORS.iasi;
      ctx.beginPath(); ctx.moveTo(lx, ly); ctx.lineTo(lx + 58, ly); ctx.stroke();
      ctx.fillStyle = COLORS.tccon;
      ctx.beginPath(); ctx.arc(lx + 29, ly + 17, 4.6, 0, Math.PI * 2); ctx.fill();
      ctx.strokeStyle = COLORS.corr;
      ctx.beginPath(); ctx.moveTo(lx, ly + 34); ctx.lineTo(lx + 58, ly + 34); ctx.stroke();
      ctx.fillStyle = '#000';
      ctx.font = `17px ${FONT}`;
      ctx.textAlign = 'left';
      LEGEND_LABELS.forEach((s, i) => ctx.fillText(s, tx, ly - 1 + i * 16.5));
    }
    ctx.restore();
  }
};

PANEL_SERIES.forEach((series, idx) => {
  const [iasi, corr, tccon, sdI, sdT, sdD] = series;
  const col = idx % 3, row = Math.floor(idx / 3);
  const isLast = idx === 11;
  const h = isLast ? 274 : CANVAS_H;
  const cv = document.createElement('canvas');
  cv.width = CANVAS_W; cv.height = h;
  cv.style.left = COL_LEFT[col] + 'px';
  cv.style.top = (row * ROW_TOP) + 'px';
  document.body.appendChild(cv);

  const tickFont = { family: FONT, size: 16 };
  new Chart(cv, {
    type: 'line',
    data: {
      datasets: [
        { type: 'bar', data: toPoints(sdI), yAxisID: 'y2', backgroundColor: COLORS.sdIasi,
          borderWidth: 0, barPercentage: 1, categoryPercentage: 1, grouped: false, base: -5, order: 6 },
        { type: 'bar', data: toPoints(sdT), yAxisID: 'y2', backgroundColor: COLORS.sdTccon,
          borderWidth: 0, barPercentage: 1, categoryPercentage: 1, grouped: false, base: -5, order: 5 },
        { type: 'line', data: toPoints(sdD), yAxisID: 'y2', borderColor: COLORS.sdDiff,
          borderWidth: 1, stepped: 'middle', pointRadius: 0, order: 4 },
        { type: 'line', data: toPoints(corr), yAxisID: 'y', borderColor: COLORS.corr,
          borderWidth: 2.3, pointRadius: 0, tension: 0, borderJoinStyle: 'round', order: 3 },
        { type: 'line', data: toPoints(iasi), yAxisID: 'y', borderColor: COLORS.iasi,
          borderWidth: 2.3, pointRadius: 0, tension: 0, borderJoinStyle: 'round', order: 2 },
        { type: 'line', data: toPoints(tccon), yAxisID: 'y', showLine: false,
          pointRadius: 4.6, pointBackgroundColor: COLORS.tccon, pointBorderWidth: 0, order: 1 }
      ]
    },
    options: {
      responsive: false,
      animation: false,
      devicePixelRatio: 1,
      layout: { padding: { top: 31, bottom: h - CANVAS_H, left: 0, right: 0 } },
      plugins: {
        legend: { display: false },
        tooltip: { enabled: false },
        decor: {
          title: TITLES[idx],
          stats: STATS[idx],
          anchor: STAT_ANCHOR[idx],
          leftTitle: col === 0 ? 'xCH4 / ppmv' : null,
          rightTitle: col === 2 ? 'SD / ppmv' : null,
          legend: isLast
        }
      },
      scales: {
        x: {
          type: 'linear', min: 0, max: 83, offset: false,
          grid: { display: false, drawTicks: false, offset: false }, border: { display: false },
          afterBuildTicks: s => { s.ticks = YEAR_LABELS.map((_l, i) => ({ value: 6 + 12 * i })); },
          ticks: { autoSkip: false, maxRotation: 0, padding: 3, color: '#000', font: tickFont,
                   callback: (v, i) => YEAR_LABELS[i] },
          afterFit: s => { s.height = 28; }
        },
        y: {
          type: 'linear', position: 'left', min: 1690, max: 1840,
          grid: { display: false, drawTicks: false }, border: { display: false },
          afterBuildTicks: s => { s.ticks = XCH4_TICKS.map(v => ({ value: v })); },
          ticks: { padding: 4, color: '#000', font: tickFont, callback: v => (v / 1000).toFixed(2) },
          afterFit: s => { s.width = 66; }
        },
        y2: {
          type: 'linear', position: 'right', min: -5, max: 155,
          grid: { display: false, drawTicks: false }, border: { display: false },
          afterBuildTicks: s => { s.ticks = SD_TICKS.map(v => ({ value: v })); },
          ticks: { padding: 5, color: '#000', font: tickFont, callback: v => (v / 1000).toFixed(2) },
          afterFit: s => { s.width = 60; }
        }
      }
    },
    plugins: [decor]
  });
});
</script>
</body>
</html>
